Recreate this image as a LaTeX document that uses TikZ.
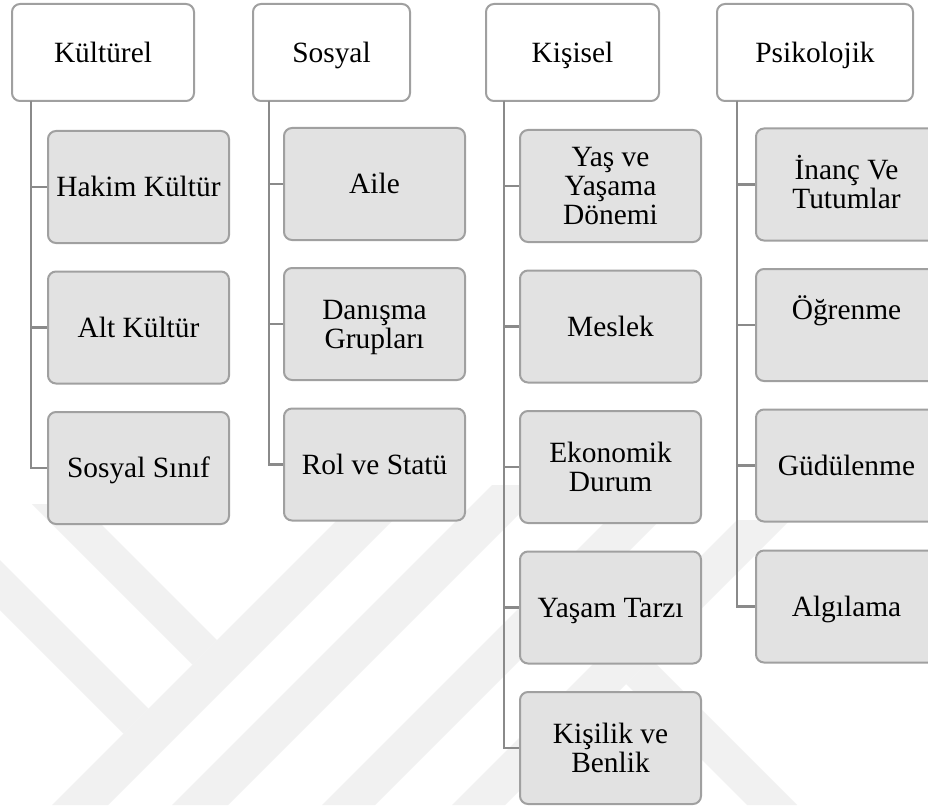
\documentclass[tikz,border=0pt]{standalone}
\usepackage{fontspec}
\setmainfont{Liberation Serif}
\definecolor{boxline}{RGB}{160,160,160}
\definecolor{linkgray}{RGB}{138,138,138}
\definecolor{childfill}{RGB}{226,226,226}
\definecolor{mark}{RGB}{241,241,241}
\tikzset{
  basebox/.style={draw=boxline, line width=2pt, rounded corners=8pt,
    align=center, inner sep=0pt, minimum height=97pt,
    text height=19.3pt, text depth=0pt,
    font=\fontsize{29.4}{29}\selectfont},
  twolines/.style={text height=48.3pt},
  threelines/.style={text height=77.3pt},
  headbox/.style={basebox, fill=white},
  itembox/.style={basebox, fill=childfill, minimum width=181pt, minimum height=112pt},
  link/.style={draw=linkgray, line width=2.5pt},
  stripe/.style={fill=mark, draw=none}
}
\begin{document}
\begin{tikzpicture}[x=1pt,y=-1pt]
\useasboundingbox (0,0) rectangle (928,805);
\fill[white] (0,0) rectangle (928,805);

% faint logo stripes in the background
\fill[stripe] (32,504) -- (81,504) -- (217,640) -- (192.5,664.5) -- cycle;
\fill[stripe] (0,560) -- (148.5,708.5) -- (123.5,733.5) -- (0,610) -- cycle;
\fill[stripe] (367,490) -- (423,490) -- (108,805) -- (52,805) -- cycle;
\fill[stripe] (492,485) -- (548,485) -- (228,805) -- (172,805) -- cycle;
\fill[stripe] (637,490) -- (690,490) -- (375,805) -- (322,805) -- cycle;
\fill[stripe] (737,520) -- (790,520) -- (505,805) -- (452,805) -- cycle;
\fill[stripe] (626,684) -- (651,659) -- (797,805) -- (747,805) -- cycle;

% column heads
\node[headbox, minimum width=182pt] (kul) at (103,52.5) {Kültürel};
\node[headbox, minimum width=157pt] (sos) at (331.5,52.5) {Sosyal};
\node[headbox, minimum width=173pt] (kis) at (572.5,52.5) {Kişisel};
\node[headbox, minimum width=196pt] (psi) at (815,52.5) {Psikolojik};

% Kültürel
\node[itembox] (kul1) at (138.5,187) {Hakim Kültür};
\node[itembox] (kul2) at (138.5,327.5) {Alt Kültür};
\node[itembox] (kul3) at (138.5,468) {Sosyal Sınıf};

% Sosyal
\node[itembox] (sos1) at (374.5,184) {Aile};
\node[itembox, twolines] (sos2) at (374.5,324) {Danışma\\Grupları};
\node[itembox] (sos3) at (374.5,464.5) {Rol ve Statü};

% Kişisel
\node[itembox, threelines] (kis1) at (610.5,186) {Yaş ve\\Yaşama\\Dönemi};
\node[itembox] (kis2) at (610.5,326.5) {Meslek};
\node[itembox, twolines] (kis3) at (610.5,467) {Ekonomik\\Durum};
\node[itembox] (kis4) at (610.5,607.5) {Yaşam Tarzı};
\node[itembox, twolines] (kis5) at (610.5,748) {Kişilik ve\\Benlik};

% Psikolojik
\node[itembox, twolines] (psi1) at (846.5,184.5) {İnanç Ve\\Tutumlar};
\node[itembox, text depth=31.3pt] (psi2) at (846.5,325) {Öğrenme};
\node[itembox] (psi3) at (846.5,465.5) {Güdülenme};
\node[itembox] (psi4) at (846.5,606.5) {Algılama};

% trunk tops under each head
\coordinate (kulT) at (31,101);
\coordinate (sosT) at (269,101);
\coordinate (kisT) at (504,101);
\coordinate (psiT) at (737,101);

\foreach \c in {kul1,kul2,kul3} \draw[link] (kulT) |- (\c.west);
\foreach \c in {sos1,sos2,sos3} \draw[link] (sosT) |- (\c.west);
\foreach \c in {kis1,kis2,kis3,kis4,kis5} \draw[link] (kisT) |- (\c.west);
\foreach \c in {psi1,psi2,psi3,psi4} \draw[link] (psiT) |- (\c.west);
\end{tikzpicture}
\end{document}
